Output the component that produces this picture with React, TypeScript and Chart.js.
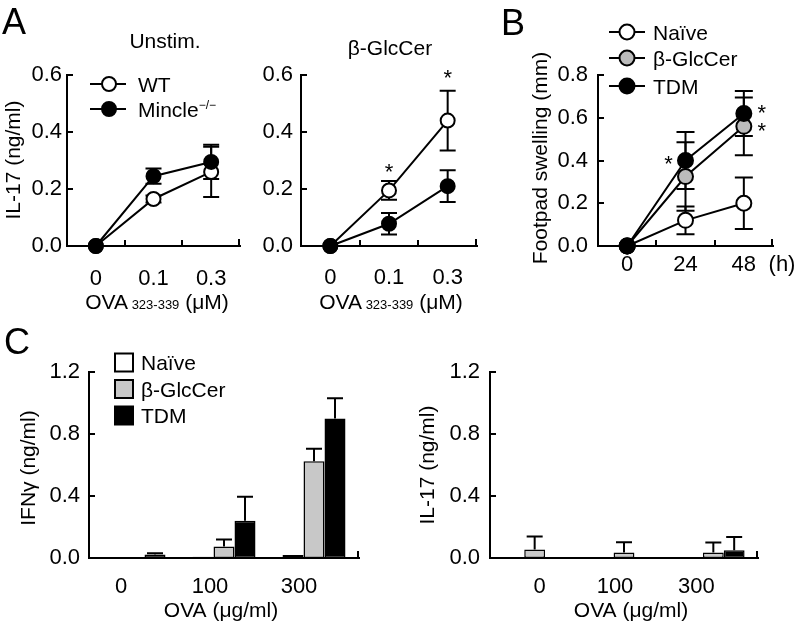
import React, { useEffect, useRef } from 'react';
import { Chart, registerables } from 'chart.js';

Chart.register(...registerables);

const W = 796;
const H = 630;
const FONT = '"Liberation Sans", Arial, Helvetica, sans-serif';
const FS = 21;
const TFS = 22;

// ---------- data ----------
const A_CATS = ['0', '0.1', '0.3'];
const B_CATS = ['0', '24', '48'];
const C_CATS = ['0', '100', '300'];

const A_UNSTIM_WT = [0, 0.165, 0.26];
const A_UNSTIM_WT_SEM = [0, 0.012, 0.088];
const A_UNSTIM_KO = [0, 0.245, 0.295];
const A_UNSTIM_KO_SEM = [0, 0.027, 0.06];

const A_GLC_WT = [0, 0.195, 0.44];
const A_GLC_WT_SEM = [0, 0.033, 0.105];
const A_GLC_KO = [0, 0.078, 0.21];
const A_GLC_KO_SEM = [0, 0.038, 0.056];
const A_GLC_STARS = [null, 0.278, 0.611];

const B_NAIVE = [0, 0.12, 0.2];
const B_NAIVE_SEM = [0, 0.065, 0.12];
const B_GLC = [0, 0.325, 0.56];
const B_GLC_SEM = [0, 0.16, 0.135];
const B_TDM = [0, 0.4, 0.62];
const B_TDM_SEM = [0, 0.133, 0.105];
const B_STAR_CAT = [1, 2, 2];
const B_STAR_VAL = [0.41, 0.65, 0.565];

const C_IFN_NAIVE = [0, 0.008, 0.02];
const C_IFN_NAIVE_SEM = [0, 0, 0];
const C_IFN_GLC = [0, 0.075, 0.625];
const C_IFN_GLC_SEM = [0, 0.045, 0.08];
const C_IFN_TDM = [0.022, 0.24, 0.9];
const C_IFN_TDM_SEM = [0.008, 0.155, 0.13];

const C_IL17_NAIVE = [0, 0, 0];
const C_IL17_NAIVE_SEM = [0, 0, 0];
const C_IL17_GLC = [0.055, 0.035, 0.035];
const C_IL17_GLC_SEM = [0.083, 0.066, 0.065];
const C_IL17_TDM = [0, 0, 0.05];
const C_IL17_TDM_SEM = [0, 0, 0.085];

const GRAY_PT = '#bbbbbb';
const GRAY_BAR = '#c8c8c8';

// ---------- helpers ----------
type Area = { l: number; r: number; t: number; b: number };
type Part = { t: string; size?: number; dy?: number };

function rich(ctx: CanvasRenderingContext2D, parts: Part[], x: number, y: number, align: 'left' | 'center' | 'right' = 'left') {
  ctx.save();
  ctx.fillStyle = '#000';
  ctx.textBaseline = 'alphabetic';
  ctx.textAlign = 'left';
  const widths = parts.map((p) => {
    ctx.font = `${p.size ?? FS}px ${FONT}`;
    return ctx.measureText(p.t).width;
  });
  const total = widths.reduce((a, b) => a + b, 0);
  let cx = align === 'left' ? x : align === 'center' ? x - total / 2 : x - total;
  parts.forEach((p, i) => {
    ctx.font = `${p.size ?? FS}px ${FONT}`;
    ctx.fillText(p.t, cx, y + (p.dy ?? 0));
    cx += widths[i];
  });
  ctx.restore();
}

function vtext(ctx: CanvasRenderingContext2D, s: string, cx: number, cy: number) {
  ctx.save();
  ctx.translate(cx, cy);
  ctx.rotate(-Math.PI / 2);
  ctx.font = `${FS}px ${FONT}`;
  ctx.fillStyle = '#000';
  ctx.textAlign = 'center';
  ctx.textBaseline = 'middle';
  ctx.fillText(s, 0, 0);
  ctx.restore();
}

function star(ctx: CanvasRenderingContext2D, cx: number, cy: number) {
  ctx.save();
  ctx.font = `22px ${FONT}`;
  ctx.fillStyle = '#000';
  ctx.textAlign = 'center';
  ctx.textBaseline = 'alphabetic';
  ctx.fillText('*', cx, cy + 0.575 * 22);
  ctx.restore();
}

// x category labels drawn through the chart's own x scale
function xLabels(ctx: CanvasRenderingContext2D, chart: any, cy: number, offsets: number[]) {
  const xs = chart.scales.x;
  const labels: string[] = chart.data.labels;
  labels.forEach((s, i) => {
    rich(ctx, [{ t: s, size: TFS }], xs.getPixelForValue(i) + (offsets[i] ?? 0), cy + 0.36 * TFS, 'center');
  });
}

function lineLegendItem(ctx: CanvasRenderingContext2D, y: number, x1: number, x2: number, mx: number, tx: number, r: number, fill: string, parts: Part[]) {
  ctx.save();
  ctx.strokeStyle = '#000';
  ctx.lineWidth = 2;
  ctx.beginPath();
  ctx.moveTo(x1, y);
  ctx.lineTo(x2, y);
  ctx.stroke();
  ctx.beginPath();
  ctx.arc(mx, y, r, 0, Math.PI * 2);
  ctx.fillStyle = fill;
  ctx.fill();
  ctx.stroke();
  ctx.restore();
  rich(ctx, parts, tx, y + 0.36 * FS, 'left');
}

function boxLegendItem(ctx: CanvasRenderingContext2D, y: number, x: number, size: number, tx: number, fill: string, label: string) {
  ctx.save();
  ctx.fillStyle = fill;
  ctx.strokeStyle = '#000';
  ctx.lineWidth = 2;
  ctx.fillRect(x, y - size / 2, size, size);
  ctx.strokeRect(x, y - size / 2, size, size);
  ctx.restore();
  rich(ctx, [{ t: label }], tx, y + 0.36 * FS, 'left');
}

const errorBarPlugin = {
  id: 'errbars',
  beforeDatasetsDraw(chart: any, _a: any, opts: any) {
    if (chart.config.type === 'line') drawErr(chart, true, opts.cap ?? 8);
  },
  afterDatasetsDraw(chart: any, _a: any, opts: any) {
    if (chart.config.type === 'bar') drawErr(chart, false, opts.cap ?? 8);
  },
};

function drawErr(chart: any, both: boolean, cap: number) {
  const ctx: CanvasRenderingContext2D = chart.ctx;
  const ys = chart.scales.y;
  ctx.save();
  ctx.strokeStyle = '#000';
  ctx.lineWidth = 2;
  chart.data.datasets.forEach((ds: any, di: number) => {
    const meta = chart.getDatasetMeta(di);
    (ds.sem || []).forEach((e: number, i: number) => {
      if (!e) return;
      const v = ds.data[i];
      const x = meta.data[i].x;
      const top = ys.getPixelForValue(v + e);
      const bot = both ? ys.getPixelForValue(v - e) : ys.getPixelForValue(v);
      ctx.beginPath();
      ctx.moveTo(x, top);
      ctx.lineTo(x, bot);
      ctx.moveTo(x - cap, top);
      ctx.lineTo(x + cap, top);
      if (both) {
        ctx.moveTo(x - cap, bot);
        ctx.lineTo(x + cap, bot);
      }
      ctx.stroke();
    });
  });
  ctx.restore();
}

const inwardTicksPlugin = {
  id: 'inTicks',
  afterDraw(chart: any, _a: any, opts: any) {
    const ctx: CanvasRenderingContext2D = chart.ctx;
    const a = chart.chartArea;
    const ys = chart.scales.y;
    const xs = chart.scales.x;
    ctx.save();
    ctx.strokeStyle = '#000';
    ctx.lineWidth = 2;
    ctx.beginPath();
    ys.ticks.forEach((t: any) => {
      const p = Math.round(ys.getPixelForValue(t.value));
      ctx.moveTo(a.left, p);
      ctx.lineTo(a.left + 6, p);
    });
    const n = chart.data.labels.length;
    if (opts.boundaries) {
      for (let i = 1; i < n; i++) {
        const p = Math.round((xs.getPixelForValue(i - 1) + xs.getPixelForValue(i)) / 2);
        ctx.moveTo(p, a.bottom);
        ctx.lineTo(p, a.bottom - 6);
      }
    }
    ctx.moveTo(a.right - 1, a.bottom);
    ctx.lineTo(a.right - 1, a.bottom - 7);
    ctx.stroke();
    ctx.restore();
  },
};

function decor(draw: (ctx: CanvasRenderingContext2D, chart: any) => void) {
  return {
    id: 'decor',
    afterDraw(chart: any) {
      draw(chart.ctx, chart);
    },
  };
}

function baseOptions(area: Area, yMax: number, yStep: number, yPad: number, boundaries: boolean, cap: number) {
  return {
    responsive: false,
    animation: false,
    devicePixelRatio: 1,
    events: [],
    layout: { padding: { left: 0, top: area.t, right: W - area.r, bottom: 0 } },
    plugins: {
      legend: { display: false },
      tooltip: { enabled: false },
      title: { display: false },
      inTicks: { boundaries },
      errbars: { cap },
    },
    scales: {
      x: {
        type: 'category',
        offset: true,
        grid: { display: false, drawTicks: false },
        border: { display: true, color: '#000', width: 2 },
        ticks: { display: false },
        afterFit: (s: any) => {
          s.height = H - area.b;
        },
      },
      y: {
        type: 'linear',
        min: 0,
        max: yMax,
        grid: { display: false, drawTicks: false },
        border: { display: true, color: '#000', width: 2 },
        ticks: {
          color: '#000',
          font: { family: FONT, size: TFS },
          padding: yPad,
          stepSize: yStep,
          callback: (v: any) => Number(v).toFixed(1),
        },
        afterFit: (s: any) => {
          s.width = area.l;
        },
      },
    },
  };
}

function lineDs(label: string, data: number[], sem: number[], fill: string, order: number, r: number) {
  return {
    label,
    data,
    sem,
    order,
    borderColor: '#000',
    borderWidth: 2,
    tension: 0,
    pointRadius: r,
    pointHoverRadius: r,
    pointBackgroundColor: fill,
    pointBorderColor: '#000',
    pointBorderWidth: 2,
    clip: false,
  };
}

function barDs(label: string, data: number[], sem: number[], fill: string) {
  return {
    label,
    data,
    sem,
    backgroundColor: fill,
    borderColor: '#000',
    borderWidth: 1.5,
    borderSkipped: false,
    categoryPercentage: 0.7,
    barPercentage: 1,
    clip: false,
  };
}

// ---------- panels ----------
const AREA_A1: Area = { l: 67, r: 240, t: 75, b: 246 };
const AREA_A2: Area = { l: 301, r: 477, t: 75, b: 246 };
const AREA_B: Area = { l: 598, r: 773, t: 75, b: 246 };
const AREA_C1: Area = { l: 89, r: 359, t: 372, b: 558 };
const AREA_C2: Area = { l: 490, r: 758, t: 372, b: 558 };

const RA = 7;
const RB = 7.5;

function configA1() {
  return {
    type: 'line',
    data: {
      labels: A_CATS,
      datasets: [
        lineDs('WT', A_UNSTIM_WT, A_UNSTIM_WT_SEM, '#fff', 1, RA),
        lineDs('Mincle−/−', A_UNSTIM_KO, A_UNSTIM_KO_SEM, '#000', 0, RA),
      ],
    },
    options: baseOptions(AREA_A1, 0.6, 0.2, 5, true, 8),
    plugins: [
      errorBarPlugin,
      inwardTicksPlugin,
      decor((ctx, chart) => {
        xLabels(ctx, chart, 277, [0, 0, 0]);
        rich(ctx, [{ t: 'A', size: 36 }], 2, 34, 'left');
        rich(ctx, [{ t: 'Unstim.' }], 165, 48, 'center');
        vtext(ctx, 'IL-17 (ng/ml)', 14, 160);
        rich(ctx, [{ t: 'OVA' }, { t: ' 323-339', size: 13 }, { t: ' (μM)' }], 157, 309, 'center');
        lineLegendItem(ctx, 84, 90, 126, 109, 138, RA, '#fff', [{ t: 'WT' }]);
        lineLegendItem(ctx, 109, 90, 126, 109, 138, RA, '#000', [{ t: 'Mincle' }, { t: '−/−', size: 12, dy: -8 }]);
      }),
    ],
  };
}

function configA2() {
  return {
    type: 'line',
    data: {
      labels: A_CATS,
      datasets: [
        lineDs('WT', A_GLC_WT, A_GLC_WT_SEM, '#fff', 1, RA),
        lineDs('Mincle−/−', A_GLC_KO, A_GLC_KO_SEM, '#000', 0, RA),
      ],
    },
    options: baseOptions(AREA_A2, 0.6, 0.2, 8, true, 8),
    plugins: [
      errorBarPlugin,
      inwardTicksPlugin,
      decor((ctx, chart) => {
        xLabels(ctx, chart, 276, [0, 0, 0]);
        rich(ctx, [{ t: 'β-GlcCer' }], 390, 55, 'center');
        rich(ctx, [{ t: 'OVA' }, { t: ' 323-339', size: 13 }, { t: ' (μM)' }], 391, 309, 'center');
        const xs = chart.scales.x;
        const ys = chart.scales.y;
        A_GLC_STARS.forEach((v, i) => {
          if (v == null) return;
          star(ctx, xs.getPixelForValue(i), ys.getPixelForValue(v));
        });
      }),
    ],
  };
}

function configB() {
  return {
    type: 'line',
    data: {
      labels: B_CATS,
      datasets: [
        lineDs('Naïve', B_NAIVE, B_NAIVE_SEM, '#fff', 2, RB),
        lineDs('β-GlcCer', B_GLC, B_GLC_SEM, GRAY_PT, 1, RB),
        lineDs('TDM', B_TDM, B_TDM_SEM, '#000', 0, RB),
      ],
    },
    options: baseOptions(AREA_B, 0.8, 0.2, 10, true, 9),
    plugins: [
      errorBarPlugin,
      inwardTicksPlugin,
      decor((ctx, chart) => {
        xLabels(ctx, chart, 263, [0, 0, 0]);
        rich(ctx, [{ t: 'B', size: 36 }], 501, 35, 'left');
        vtext(ctx, 'Footpad swelling (mm)', 541, 158);
        rich(ctx, [{ t: '(h)', size: TFS }], 782, 271, 'center');
        lineLegendItem(ctx, 32, 609, 645, 627, 653, RB, '#fff', [{ t: 'Naïve' }]);
        lineLegendItem(ctx, 58, 609, 645, 627, 653, RB, GRAY_PT, [{ t: 'β-GlcCer' }]);
        lineLegendItem(ctx, 86, 609, 645, 627, 653, RB, '#000', [{ t: 'TDM' }]);
        const xs = chart.scales.x;
        const ys = chart.scales.y;
        B_STAR_CAT.forEach((c, i) => {
          const px = xs.getPixelForValue(c);
          const dx = c === 1 ? -17 : 18;
          star(ctx, px + dx, ys.getPixelForValue(B_STAR_VAL[i]));
        });
      }),
    ],
  };
}

function configC1() {
  return {
    type: 'bar',
    data: {
      labels: C_CATS,
      datasets: [
        barDs('Naïve', C_IFN_NAIVE, C_IFN_NAIVE_SEM, '#fff'),
        barDs('β-GlcCer', C_IFN_GLC, C_IFN_GLC_SEM, GRAY_BAR),
        barDs('TDM', C_IFN_TDM, C_IFN_TDM_SEM, '#000'),
      ],
    },
    options: baseOptions(AREA_C1, 1.2, 0.4, 9, false, 8),
    plugins: [
      errorBarPlugin,
      inwardTicksPlugin,
      decor((ctx, chart) => {
        xLabels(ctx, chart, 585, [-13, -14, -15]);
        rich(ctx, [{ t: 'C', size: 36 }], 4, 354, 'left');
        vtext(ctx, 'IFNγ (ng/ml)', 29, 468);
        rich(ctx, [{ t: 'OVA (μg/ml)' }], 221, 617, 'center');
        boxLegendItem(ctx, 362.5, 115, 18, 141, '#fff', 'Naïve');
        boxLegendItem(ctx, 389, 115, 18, 141, GRAY_BAR, 'β-GlcCer');
        boxLegendItem(ctx, 415.5, 115, 18, 141, '#000', 'TDM');
      }),
    ],
  };
}

function configC2() {
  return {
    type: 'bar',
    data: {
      labels: C_CATS,
      datasets: [
        barDs('Naïve', C_IL17_NAIVE, C_IL17_NAIVE_SEM, '#fff'),
        barDs('β-GlcCer', C_IL17_GLC, C_IL17_GLC_SEM, GRAY_BAR),
        barDs('TDM', C_IL17_TDM, C_IL17_TDM_SEM, '#000'),
      ],
    },
    options: baseOptions(AREA_C2, 1.2, 0.4, 10, false, 8),
    plugins: [
      errorBarPlugin,
      inwardTicksPlugin,
      decor((ctx, chart) => {
        xLabels(ctx, chart, 585, [5, -9, -17]);
        vtext(ctx, 'IL-17 (ng/ml)', 428, 465);
        rich(ctx, [{ t: 'OVA (μg/ml)' }], 631, 617, 'center');
      }),
    ],
  };
}

function ChartCanvas({ make }: { make: () => any }) {
  const ref = useRef<HTMLCanvasElement>(null);
  useEffect(() => {
    if (!ref.current) return;
    const chart = new Chart(ref.current, make());
    return () => chart.destroy();
  }, [make]);
  return (
    <canvas
      ref={ref}
      width={W}
      height={H}
      style={{ position: 'absolute', left: 0, top: 0, width: W, height: H }}
    />
  );
}

export default function App() {
  return (
    <div style={{ position: 'fixed', left: 0, top: 0, width: W, height: H, background: '#fff', overflow: 'hidden' }}>
      <ChartCanvas make={configA1} />
      <ChartCanvas make={configA2} />
      <ChartCanvas make={configB} />
      <ChartCanvas make={configC1} />
      <ChartCanvas make={configC2} />
    </div>
  );
}
